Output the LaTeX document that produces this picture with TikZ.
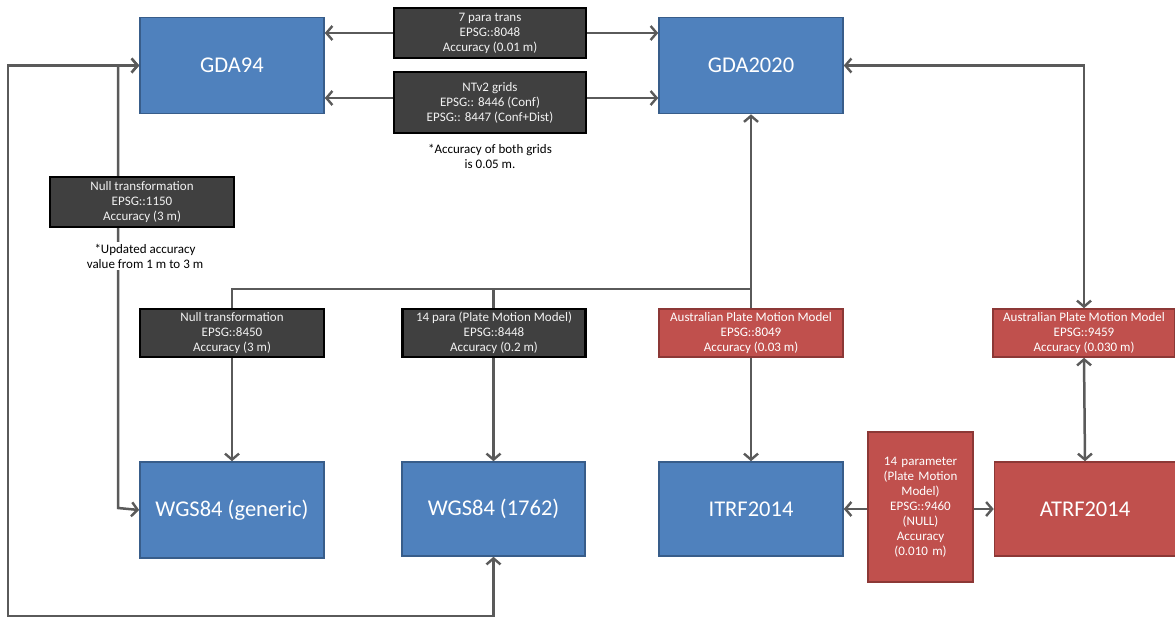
\documentclass[tikz,border=0pt]{standalone}
\usepackage{fontspec}
\setmainfont{Carlito}
\usetikzlibrary{arrows.meta,backgrounds,calc}
\definecolor{boxblue}{HTML}{4F81BD}
\definecolor{edgeblue}{HTML}{385D8A}
\definecolor{boxred}{HTML}{C0504D}
\definecolor{edgered}{HTML}{8C3836}
\definecolor{boxdark}{HTML}{404040}
\definecolor{linegray}{HTML}{5A5A5A}
\tikzset{
  crs/.style={draw=edgeblue, fill=boxblue, line width=1.6pt, text=white,
    minimum width=184pt, minimum height=96pt, inner sep=2pt,
    font=\fontsize{22.5}{26}\selectfont},
  crsred/.style={crs, draw=edgered, fill=boxred},
  trans/.style={draw=black, fill=boxdark, line width=2.4pt, text=white!95!black,
    align=center, inner sep=1pt, font=\fontsize{13}{15}\selectfont},
  transred/.style={trans, draw=edgered, fill=boxred, line width=1.6pt, text=white},
  note/.style={align=center, font=\fontsize{13}{15}\selectfont, inner sep=2pt},
  barb/.tip={Straight Barb[length=6pt,width=14pt,line width=2.4pt]},
  link/.style={draw=linegray, line width=2.5pt, arrows={-barb}},
  dlink/.style={link, arrows={barb-barb}}
}
\begin{document}
\begin{tikzpicture}[x=1pt,y=-1pt]
\useasboundingbox (0,0) rectangle (1175,619);

% reference frames
\node[crs] (gda94) at (232,65.5) {GDA94};
\node[crs] (gda2020) at (751,65.5) {GDA2020};
\node[crs] (wgsg) at (232,510) {WGS84 (generic)};
\node[crs, minimum width=183pt, minimum height=94pt] (wgs1762) at (493.5,509) {WGS84 (1762)};
\node[crs, minimum height=94pt] (itrf) at (751,509) {ITRF2014};
\node[crsred, minimum width=181pt, minimum height=94pt] (atrf) at (1085,509) {ATRF2014};

% transformations
\node[trans, minimum width=192pt, minimum height=50pt] (para7) at (490,33)
  {7 para trans\\EPSG::8048\\Accuracy (0.01 m)};
\node[trans, minimum width=192pt, minimum height=61pt] (ntv2) at (490,102.5)
  {NTv2 grids\\EPSG:: 8446 (Conf)\\EPSG:: 8447 (Conf+Dist)};
\node[trans, minimum width=184pt, minimum height=50pt] (null1150) at (142,202)
  {Null transformation\\EPSG::1150\\Accuracy (3 m)};
\node[trans, minimum width=184pt, minimum height=48pt] (null8450) at (232,333)
  {Null transformation\\EPSG::8450\\Accuracy (3 m)};
\node[trans, minimum width=183pt, minimum height=48pt] (p8448) at (494,333)
  {14 para (Plate Motion Model)\\EPSG::8448\\Accuracy (0.2 m)};
\node[transred, minimum width=184pt, minimum height=48pt] (apmm8049) at (751,333)
  {Australian Plate Motion Model\\EPSG::8049\\Accuracy (0.03 m)};
\node[transred, minimum width=182pt, minimum height=48pt] (apmm9459) at (1084,333)
  {Australian Plate Motion Model\\EPSG::9459\\Accuracy (0.030 m)};
\node[transred, minimum width=105pt, minimum height=150pt, text width=100pt] (p14) at (920.5,507)
  {14 parameter\\(Plate Motion\\Model)\\EPSG::9460\\(NULL)\\Accuracy\\(0.010 m)};

% notes
\node[note] (gridnote) at (490,156) {*Accuracy of both grids\\is 0.05 m.};
\node[note, fill=white] (accnote) at (145,256) {*Updated accuracy\\value from 1 m to 3 m};

% junction points of the connectors
\coordinate (bus) at (751,289);
\coordinate (loopcorner) at (8,616);
\coordinate (sidecorner) at (118,508);

\begin{scope}[on background layer]
  \fill[white] (0,0) rectangle (1175,619);
  % GDA94 <-> GDA2020 through the two transformation boxes
  \draw[link] (para7.west) -- (para7.west -| gda94.east);
  \draw[link] (para7.east) -- (para7.east -| gda2020.west);
  \draw[link] ($(ntv2.west)+(0,-4.5)$) -- ($(ntv2.west -| gda94.east)+(0,-4.5)$);
  \draw[link] ($(ntv2.east)+(0,-4.5)$) -- ($(ntv2.east -| gda2020.west)+(0,-4.5)$);
  % GDA94 <-> WGS84 frames
  \draw[dlink] (gda94.west) -| (loopcorner) -| (wgs1762.south);
  \draw[dlink] (gda94.west) -| (sidecorner) -- (wgsg.west);
  % branches out of GDA2020
  \draw[link] (bus) -- (gda2020.south);
  \draw[link] (bus) -- (itrf.north);
  \draw[link] (bus) -| (wgsg.north);
  \draw[link] (bus) -| (wgs1762.north);
  % GDA2020 <-> ATRF2014
  \draw[dlink] (gda2020.east) -| (apmm9459.north);
  \draw[dlink] (apmm9459.south) -- (atrf.north);
  % ITRF2014 <-> ATRF2014
  \draw[link] (p14.west |- itrf.east) -- (itrf.east);
  \draw[link] (p14.east |- atrf.west) -- (atrf.west);
\end{scope}
\end{tikzpicture}
\end{document}
